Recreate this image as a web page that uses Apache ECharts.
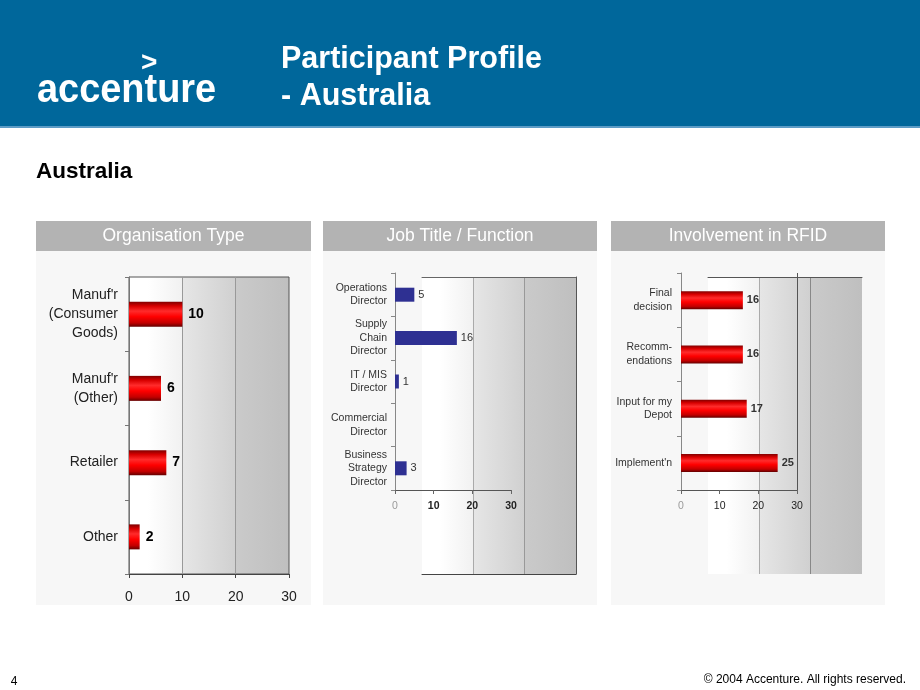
<!DOCTYPE html>
<html>
<head>
<meta charset="utf-8">
<script src="https://cdn.jsdelivr.net/npm/echarts/dist/echarts.min.js"></script>
<style>
html,body{margin:0;padding:0;background:#fff;}
#c{width:920px;height:690px;}
</style>
</head>
<body>
<div id="c"></div>
<script>
// ---- data ----
const xTicks = [0, 10, 20, 30];
const orgCats = ["Manuf'r\n(Consumer\nGoods)", "Manuf'r\n(Other)", "Retailer", "Other"];
const orgVals = [10, 6, 7, 2];
const jobCats = ["Operations\nDirector", "Supply\nChain\nDirector", "IT / MIS\nDirector", "Commercial\nDirector", "Business\nStrategy\nDirector"];
const jobVals = [5, 16, 1, 0, 3];
const invCats = ["Final\ndecision", "Recomm-\nendations", "Input for my\nDepot", "Implement'n"];
const invVals = [16, 16, 17, 25];
const panelTitles = ["Organisation Type", "Job Title / Function", "Involvement in RFID"];

// ---- styles ----
const FONT = '"Liberation Sans", Arial, sans-serif';
const xMin = xTicks[0], xMax = xTicks[xTicks.length - 1], xInt = xTicks[1] - xTicks[0];
const bgGrad = {type:'linear', x:0, y:0, x2:1, y2:0, colorStops:[
  {offset:0, color:'#ffffff'}, {offset:0.12, color:'#ffffff'}, {offset:0.333, color:'#f1f1f1'},
  {offset:0.335, color:'#e6e6e6'}, {offset:0.665, color:'#d0d0d0'},
  {offset:0.667, color:'#cacaca'}, {offset:1, color:'#bfbfbf'}]};
const redGrad = {type:'linear', x:0, y:0, x2:0, y2:1, colorStops:[
  {offset:0, color:'#7e0000'}, {offset:0.18, color:'#d80000'}, {offset:0.38, color:'#ff2b2b'},
  {offset:0.6, color:'#ff0000'}, {offset:0.85, color:'#c20000'}, {offset:1, color:'#650000'}]};
const none = {show:false};

function valAxis(grid, extra) {
  return Object.assign({gridIndex:grid, type:'value', min:xMin, max:xMax, interval:xInt,
    axisLine:{show:false, onZero:false}, axisTick:none, axisLabel:none, splitLine:none}, extra);
}

const chart = echarts.init(document.getElementById('c'), null, {renderer:'canvas'});

const panelsX = [36, 323, 611], panelsW = [275, 274, 274];
const mid = {textVerticalAlign:'middle', verticalAlign:'middle'};
const graphics = [
  {type:'rect', z:-1, shape:{x:0, y:0, width:920, height:126}, style:{fill:'#00679b'}},
  {type:'rect', z:-1, shape:{x:0, y:126, width:920, height:2}, style:{fill:'#5d9cc6'}},
  {type:'text', x:37, y:91, scaleX:0.925, style:Object.assign({text:'accenture', fill:'#fff', font:'bold 41px ' + FONT}, mid)},
  {type:'text', x:141, y:63, style:Object.assign({text:'>', fill:'#fff', font:'bold 28px ' + FONT}, mid)},
  {type:'text', x:281, y:60, style:Object.assign({text:'Participant Profile', fill:'#fff', font:'bold 30.5px ' + FONT}, mid)},
  {type:'text', x:281, y:97, style:Object.assign({text:'- Australia', fill:'#fff', font:'bold 30.5px ' + FONT}, mid)},
  {type:'text', x:36, y:172, style:Object.assign({text:'Australia', fill:'#000', font:'bold 22.5px ' + FONT}, mid)},
  {type:'text', x:14, y:682, style:Object.assign({text:'4', fill:'#000', font:'12px ' + FONT, textAlign:'center', align:'center'}, mid)},
  {type:'text', x:906, y:680, style:Object.assign({text:'\u00a9 2004 Accenture. All rights reserved.', fill:'#000', font:'12px ' + FONT, textAlign:'right', align:'right'}, mid)}
];
panelsX.forEach((px, i) => {
  graphics.push({type:'rect', z:-1, shape:{x:px, y:221, width:panelsW[i], height:384}, style:{fill:'#f7f7f7'}});
  graphics.push({type:'rect', z:-1, shape:{x:px, y:221, width:panelsW[i], height:30}, style:{fill:'#b3b3b3'}});
  graphics.push({type:'text', x:px + panelsW[i] / 2, y:236, style:Object.assign({text:panelTitles[i], fill:'#fff', font:'17.5px ' + FONT, textAlign:'center', align:'center'}, mid)});
});

const smallTickLabel = (bold) => ({
  fontSize:10.5, margin:11,
  formatter: v => v === 0 ? '{z|0}' : '{d|' + v + '}',
  rich:{z:{color:'#9a9a9a', fontSize:10.5, fontFamily:FONT}, d:{color:'#222', fontSize:10.5, fontFamily:FONT, fontWeight: bold ? 'bold' : 'normal'}}
});

const option = {
  backgroundColor:'#ffffff',
  animation:false,
  textStyle:{fontFamily:FONT},
  graphic:{elements:graphics},
  grid:[
    {left:129, top:277, width:160, height:297, show:true, backgroundColor:bgGrad, borderColor:'#555', borderWidth:1},
    {left:422, top:277, width:154, height:297, show:true, backgroundColor:bgGrad, borderWidth:0},
    {left:395, top:273, width:116, height:217},
    {left:708, top:277, width:154, height:297, show:true, backgroundColor:bgGrad, borderWidth:0},
    {left:681, top:273, width:116, height:217}
  ],
  xAxis:[
    valAxis(0, {axisLine:{show:true, onZero:false, lineStyle:{color:'#444'}},
      axisTick:{show:true, length:4, lineStyle:{color:'#444'}},
      axisLabel:{show:true, fontSize:14, color:'#222', margin:16},
      splitLine:{show:true, lineStyle:{color:['rgba(0,0,0,0)', '#999', '#999', 'rgba(0,0,0,0)']}}}),
    valAxis(1, {axisLine:{show:true, onZero:false, lineStyle:{color:'#444'}},
      splitLine:{show:true, lineStyle:{color:['rgba(0,0,0,0)', '#aaa', '#999', 'rgba(0,0,0,0)']}}}),
    valAxis(1, {position:'top', axisLine:{show:true, onZero:false, lineStyle:{color:'#666'}}}),
    valAxis(2, {axisLine:{show:true, onZero:false, lineStyle:{color:'#555'}},
      axisTick:{show:true, length:4, lineStyle:{color:'#666'}},
      axisLabel:Object.assign({show:true}, smallTickLabel(true))}),
    valAxis(3, {splitLine:{show:true, lineStyle:{color:['rgba(0,0,0,0)', '#aaa', '#888', 'rgba(0,0,0,0)']}}}),
    valAxis(3, {position:'top', axisLine:{show:true, onZero:false, lineStyle:{color:'#555'}}}),
    valAxis(4, {axisLine:{show:true, onZero:false, lineStyle:{color:'#555'}},
      axisTick:{show:true, length:4, lineStyle:{color:'#666'}},
      axisLabel:Object.assign({show:true}, smallTickLabel(false)),
      splitLine:{show:true, lineStyle:{color:['rgba(0,0,0,0)', 'rgba(0,0,0,0)', 'rgba(0,0,0,0)', '#555']}}})
  ],
  yAxis:[
    {gridIndex:0, type:'category', data:orgCats, inverse:true,
      axisLine:{show:true, onZero:false, lineStyle:{color:'#777'}},
      axisTick:{show:true, length:4, lineStyle:{color:'#777'}},
      axisLabel:{fontSize:14, lineHeight:19, color:'#222', margin:11}},
    {gridIndex:1, type:'value', min:0, max:1, position:'right',
      axisLine:{show:true, onZero:false, lineStyle:{color:'#555'}}, axisTick:none, axisLabel:none, splitLine:none},
    {gridIndex:2, type:'category', data:jobCats, inverse:true,
      axisLine:{show:true, onZero:false, lineStyle:{color:'#888'}},
      axisTick:{show:true, length:4, lineStyle:{color:'#888'}},
      axisLabel:{fontSize:10.5, lineHeight:13.5, color:'#333', margin:8}},
    {gridIndex:3, type:'value', min:0, max:1, position:'right',
      axisLine:{show:false, onZero:false}, axisTick:none, axisLabel:none, splitLine:none},
    {gridIndex:4, type:'category', data:invCats, inverse:true,
      axisLine:{show:true, onZero:false, lineStyle:{color:'#888'}},
      axisTick:{show:true, length:4, lineStyle:{color:'#888'}},
      axisLabel:{fontSize:10.5, lineHeight:13.7, color:'#333', margin:9}}
  ],
  series:[
    {type:'bar', xAxisIndex:0, yAxisIndex:0, data:orgVals, barWidth:25,
      itemStyle:{color:redGrad},
      label:{show:true, position:'right', distance:6, fontSize:14, fontWeight:'bold', color:'#000'}},
    {type:'bar', xAxisIndex:3, yAxisIndex:2, data:jobVals, barWidth:14,
      itemStyle:{color:'#2e3092'},
      label:{show:true, position:'right', distance:4, fontSize:11, color:'#333',
        formatter: p => p.value ? String(p.value) : ''}},
    {type:'bar', xAxisIndex:6, yAxisIndex:4, data:invVals, barWidth:18,
      itemStyle:{color:redGrad},
      label:{show:true, position:'right', distance:4, fontSize:11, fontWeight:'bold', color:'#333'}}
  ]
};
chart.setOption(option);
</script>
</body>
</html>
